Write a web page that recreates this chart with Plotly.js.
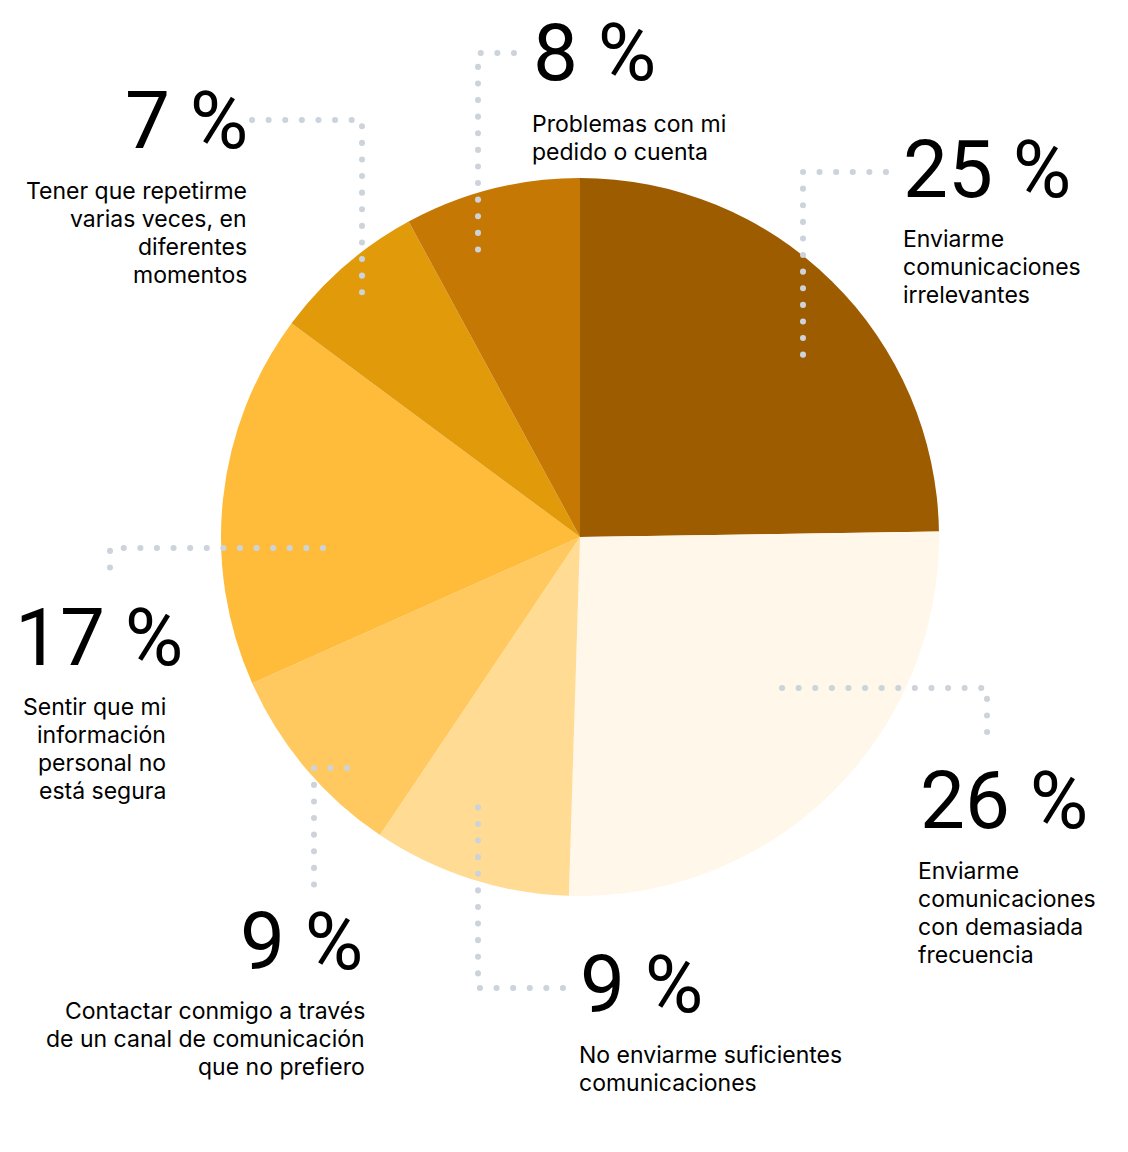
<!DOCTYPE html>
<html>
<head>
<meta charset="utf-8">
<script src="https://cdn.plot.ly/plotly-3.0.1.min.js"></script>
<style>
html, body { margin: 0; padding: 0; background: #fff; }
#chart { width: 1128px; height: 1152px; }
/* round caps turn the tiny dashes into dots */
.shapelayer path { stroke-linecap: round; }
</style>
</head>
<body>
<div id="chart"></div>
<script>
var categories = [
    'Enviarme comunicaciones irrelevantes',
    'Enviarme comunicaciones con demasiada frecuencia',
    'No enviarme suficientes comunicaciones',
    'Contactar conmigo a través de un canal de comunicación que no prefiero',
    'Sentir que mi información personal no está segura',
    'Tener que repetirme varias veces, en diferentes momentos',
    'Problemas con mi pedido o cuenta'
];
var shares = [25, 26, 9, 9, 17, 7, 8];
var sliceColors = ['#9E5C00', '#FFF7E9', '#FFDB94', '#FFC960', '#FFBC3B', '#E09A0A', '#C67805'];
var captions = [
    'Enviarme<br>comunicaciones<br>irrelevantes',
    'Enviarme<br>comunicaciones<br>con demasiada<br>frecuencia',
    'No enviarme suficientes<br>comunicaciones',
    'Contactar conmigo a través<br>de un canal de comunicación<br>que no prefiero',
    'Sentir que mi<br>información<br>personal no<br>está segura',
    'Tener que repetirme<br>varias veces, en<br>diferentes<br>momentos',
    'Problemas con mi<br>pedido o cuenta'
];

var W = 1128, H = 1152;
function px(x) { return x / W; }
function py(y) { return 1 - y / H; }

// where each callout sits, in page pixels
var spots = [
    {side: 'left',  nside: 'left',  nx: 902, ny: 170, cx: 902, cy: 267,  lead: [[886, 172], [803, 172], [803, 360]]},
    {side: 'left',  nside: 'left',  nx: 919, ny: 801, cx: 917, cy: 913,  lead: [[782, 688], [987, 688], [987, 748]]},
    {side: 'left',  nside: 'left',  nx: 579, ny: 985, cx: 578, cy: 1069, lead: [[563, 988], [478, 988], [478, 804]]},
    {side: 'right', nside: 'right', nx: 364, ny: 942, cx: 366, cy: 1039, lead: [[347, 768], [314, 768], [314, 888]]},
    {side: 'right', nside: 'left',  nx: 14,  ny: 638, cx: 167, cy: 749,  lead: [[323, 548], [110, 548], [110, 584]]},
    {side: 'right', nside: 'right', nx: 249, ny: 121, cx: 248, cy: 233,  lead: [[252, 120], [362, 120], [362, 300]]},
    {side: 'left',  nside: 'left',  nx: 532, ny: 53,  cx: 531, cy: 138,  lead: [[514, 53], [478, 53], [478, 264]]}
];
var lineGap = 28;

var cx0 = 580, cy0 = 537, rad = 359;

var data = [{
    type: 'pie',
    labels: categories,
    values: shares,
    sort: false,
    direction: 'clockwise',
    rotation: 0,
    textinfo: 'none',
    hoverinfo: 'label+percent',
    marker: {colors: sliceColors, line: {width: 0}},
    domain: {
        x: [px(cx0 - rad), px(cx0 + rad)],
        y: [py(cy0 + rad), py(cy0 - rad)]
    },
    showlegend: false
}];

var annotations = [];
var shapes = [];
for (var i = 0; i < shares.length; ++i) {
    var s = spots[i];
    annotations.push({
        xref: 'paper', yref: 'paper',
        x: px(s.nx), y: py(s.ny),
        xanchor: s.nside, yanchor: 'middle',
        text: shares[i] + ' %',
        showarrow: false, borderpad: 0,
        font: {family: 'Roboto, sans-serif', size: 80, color: '#000'}
    });
    // one annotation per caption line so the line spacing is ours
    var lines = captions[i].split('<br>');
    for (var k = 0; k < lines.length; ++k) {
        annotations.push({
            xref: 'paper', yref: 'paper',
            x: px(s.cx), y: py(s.cy + (k - (lines.length - 1) / 2) * lineGap),
            xanchor: s.side, yanchor: 'middle',
            text: lines[k],
            showarrow: false, borderpad: 0,
            font: {family: 'Inter, Roboto, sans-serif', size: 23, color: '#000'}
        });
    }
    var path = '';
    for (var k = 0; k < s.lead.length; ++k) {
        path += (k === 0 ? 'M ' : ' L ') + px(s.lead[k][0]) + ' ' + py(s.lead[k][1]);
    }
    shapes.push({
        type: 'path', xref: 'paper', yref: 'paper', path: path,
        line: {color: '#CDD3DA', width: 6, dash: '0.1px,16.5px'}
    });
}

var layout = {
    width: W,
    height: H,
    margin: {l: 0, r: 0, t: 0, b: 0},
    paper_bgcolor: '#fff',
    plot_bgcolor: '#fff',
    annotations: annotations,
    shapes: shapes
};

Plotly.newPlot('chart', data, layout, {displayModeBar: false, staticPlot: true});
</script>
</body>
</html>
